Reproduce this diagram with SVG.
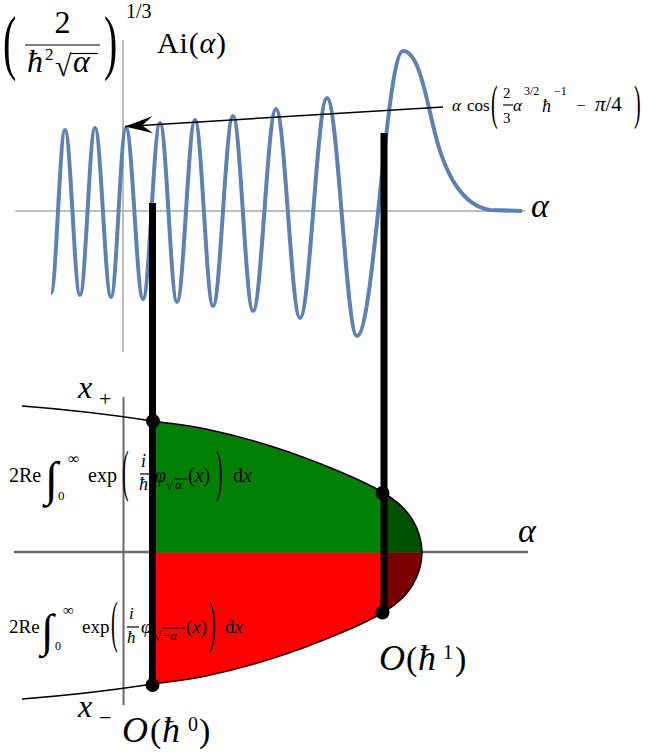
<svg xmlns="http://www.w3.org/2000/svg" width="647" height="756" viewBox="0 0 647 756">
<style>
text{font-family:"Liberation Serif","DejaVu Serif",serif;fill:#000}
.it{font-style:italic}
.ax1{stroke:#a8a8a8;stroke-width:1.5;fill:none}
.ax2{stroke:#6a6a6a;stroke-width:2.5;fill:none}
.bar{stroke:#000;stroke-width:7;fill:none}
.thin{stroke:#000;stroke-width:1.5;fill:none}
.rule{stroke:#000;stroke-width:1.2}
</style>
<defs>
<marker id="arr" markerUnits="userSpaceOnUse" markerWidth="30" markerHeight="20" viewBox="-27 -9 28 18" refX="0" refY="0" orient="auto">
<path d="M0,0 L-26,-8 L-16,0 L-26,8 Z" fill="#000"/>
</marker>
<clipPath id="lensClip">
<path d="M153,421 C170.8,423.7 187,425 207,429.3 C227,433.6 250.8,439.6 273,446.7 C295.2,453.8 321,463.65 340,471.7 C359,479.75 375,487.1 387,495 C399,502.9 406.2,509.4 412,519 C417.8,528.6 422,542 422,552.5 C422,563 417.8,576.4 412,586 C406.2,595.6 399,602.1 387,610 C375,617.9 359,625.25 340,633.3 C321,641.35 295.2,651.2 273,658.3 C250.8,665.4 227,671.4 207,675.7 C187,680 170.8,681.3 153,684 Z"/>
</clipPath>
</defs>
<rect width="647" height="756" fill="#fff"/>

<g id="airy-plot">
<line class="ax1" x1="15" y1="211" x2="525" y2="211"/>
<line class="ax1" x1="123" y1="40" x2="123" y2="352"/>
<path fill="none" stroke="#5e81b5" stroke-width="4" stroke-linejoin="round" d="M51,293 C56.1,293 59.9,130 65,130 C70.5,130 74.5,295 80,295 C85.5,295 89.5,128 95,128 C100.8,128 105.2,297 111,297 C116.5,297 120.5,128 126,128 C132.2,128 136.8,299 143,299 C149.2,299 153.8,123 160,123 C166.2,123 170.8,302 177,302 C183.5,302 188.5,120 195,120 C201.5,120 206.5,306 213,306 C220.3,306 225.7,116 233,116 C240.3,116 245.7,311 253,311 C261.4,311 267.6,109 276,109 C284.7,109 291.3,318 300,318 C309.8,318 317.2,98 327,98 C337.9,98 346.1,336 357,336 C373.7,336 386.3,51 403,51 C418,51 425,92 433,125 C442,165 458,205 490,210 L522,211"/>
<text class="it" x="531" y="217" font-size="34">α</text>
</g>

<g id="lens-plot">
<line class="ax2" x1="14" y1="552" x2="528" y2="552"/>
<line x1="123.5" y1="397" x2="123.5" y2="705" stroke="#6a6a6a" stroke-width="2"/>
<g clip-path="url(#lensClip)">
<rect x="150" y="400" width="234" height="152.5" fill="#008000"/>
<rect x="384" y="400" width="50" height="152.5" fill="#005000"/>
<rect x="150" y="552.5" width="234" height="150" fill="#ff0000"/>
<rect x="384" y="552.5" width="50" height="150" fill="#7a0000"/>
</g>
<path class="thin" d="M22,406 C62,409 113,414.9 153,421 C170.8,423.7 187,425 207,429.3 C227,433.6 250.8,439.6 273,446.7 C295.2,453.8 321,463.65 340,471.7 C359,479.75 375,487.1 387,495 C399,502.9 406.2,509.4 412,519 C417.8,528.6 422,542 422,552.5 C422,563 417.8,576.4 412,586 C406.2,595.6 399,602.1 387,610 C375,617.9 359,625.25 340,633.3 C321,641.35 295.2,651.2 273,658.3 C250.8,665.4 227,671.4 207,675.7 C187,680 170.8,681.3 153,684 C113,690.1 62,696 22,699"/>
<text class="it" x="518" y="542" font-size="34">α</text>
</g>

<g id="label-prefactor">
<text transform="translate(3,66) scale(1,1.8)" font-size="40">(</text>
<text x="62.5" y="33" font-size="32" text-anchor="middle">2</text>
<line class="rule" x1="25" y1="45" x2="100" y2="45" stroke-width="1.5"/>
<text class="it" x="27" y="72" font-size="32">ħ</text>
<text x="45" y="60" font-size="17">2</text>
<text x="55" y="76" font-size="30">√</text>
<line class="rule" x1="70" y1="53.5" x2="98" y2="53.5" stroke-width="1.5"/>
<text class="it" x="73" y="72" font-size="32">α</text>
<text transform="translate(104,66) scale(1,1.8)" font-size="40">)</text>
<text x="126" y="18" font-size="20">1/3</text>
<text x="157" y="53" font-size="30" textLength="69">Ai(<tspan class="it">α</tspan>)</text>
</g>

<g id="label-asymptotic">
<text class="it" x="452" y="111" font-size="17">α</text>
<text x="467" y="111" font-size="17">cos</text>
<text transform="translate(491,119) scale(1,2.45)" font-size="20">(</text>
<text x="503" y="98" font-size="15">2</text>
<line class="rule" x1="503" y1="105" x2="513" y2="105"/>
<text x="503" y="123" font-size="15">3</text>
<text class="it" x="513" y="111" font-size="17">α</text>
<text x="524" y="95" font-size="12">3/2</text>
<text class="it" x="542" y="112" font-size="18">ħ</text>
<text x="554" y="95" font-size="12">−1</text>
<text x="576" y="111" font-size="17">−</text>
<text x="595" y="111" font-size="21"><tspan class="it">π</tspan>/4</text>
<text transform="translate(634,119) scale(1,2.45)" font-size="20">)</text>
</g>

<g id="label-integral-plus">
<text x="9" y="482" font-size="20">2Re</text>
<text x="45" y="495" font-size="48">∫</text>
<text x="68" y="464" font-size="16">∞</text>
<text x="58" y="500" font-size="13">0</text>
<text x="88" y="482" font-size="20">exp</text>
<text transform="translate(122,490) scale(1,2.85)" font-size="20">(</text>
<text class="it" x="141" y="467" font-size="18">i</text>
<line class="rule" x1="140" y1="474" x2="151" y2="474"/>
<text class="it" x="139" y="490" font-size="18">ħ</text>
<text class="it" x="155" y="482" font-size="20">φ</text>
<text x="166" y="490" font-size="13">√</text>
<line class="rule" x1="174" y1="479" x2="187" y2="479" stroke-width="0.8"/>
<text class="it" x="175" y="489" font-size="13">α</text>
<text x="188" y="482" font-size="20">(<tspan class="it">x</tspan>)</text>
<text transform="translate(216,490) scale(1,2.85)" font-size="20">)</text>
<text x="233" y="482" font-size="20">d<tspan class="it">x</tspan></text>
</g>

<g id="label-integral-minus">
<text x="9" y="633" font-size="19">2Re</text>
<text x="41" y="646" font-size="46">∫</text>
<text x="63" y="615" font-size="15">∞</text>
<text x="55" y="650" font-size="12">0</text>
<text x="82" y="633" font-size="19">exp</text>
<text transform="translate(111,641) scale(1,2.85)" font-size="20">(</text>
<text class="it" x="129" y="619" font-size="17">i</text>
<line class="rule" x1="127" y1="627" x2="139" y2="627"/>
<text class="it" x="127" y="643" font-size="17">ħ</text>
<text class="it" x="141" y="633" font-size="19">φ</text>
<text x="154" y="641" font-size="13">√</text>
<line class="rule" x1="162" y1="628" x2="185" y2="628" stroke-width="0.8"/>
<text x="163" y="640" font-size="13">−<tspan class="it">α</tspan></text>
<text x="186" y="633" font-size="19">(<tspan class="it">x</tspan>)</text>
<text transform="translate(209,641) scale(1,2.85)" font-size="20">)</text>
<text x="225" y="633" font-size="19">d<tspan class="it">x</tspan></text>
</g>

<g id="label-xplus">
<text class="it" x="78" y="398" font-size="32">x</text>
<text x="99" y="406" font-size="22">+</text>
</g>
<g id="label-xminus">
<text class="it" x="78" y="717" font-size="32">x</text>
<text x="99" y="725" font-size="22">−</text>
</g>

<g id="connectors">
<line class="thin" x1="443" y1="107" x2="125" y2="126.5" marker-end="url(#arr)"/>
<line class="bar" x1="152.5" y1="203" x2="152.5" y2="685" stroke-width="6.5"/>
<line class="bar" x1="384" y1="133" x2="384" y2="613"/>
<circle cx="153" cy="421" r="7"/>
<circle cx="152.5" cy="685" r="7"/>
<circle cx="382.5" cy="493" r="7"/>
<circle cx="382.5" cy="612.5" r="7"/>
</g>

<g id="label-order0">
<text class="it" x="122" y="742" font-size="36">O</text>
<text x="150" y="742" font-size="34">(</text>
<text class="it" x="162" y="742" font-size="36">ħ</text>
<text x="188" y="731" font-size="20">0</text>
<text x="199" y="742" font-size="34">)</text>
</g>
<g id="label-order1">
<text class="it" x="379" y="670" font-size="36">O</text>
<text x="406" y="670" font-size="34">(</text>
<text class="it" x="418" y="670" font-size="36">ħ</text>
<text x="443" y="659" font-size="20">1</text>
<text x="455" y="670" font-size="34">)</text>
</g>
</svg>
